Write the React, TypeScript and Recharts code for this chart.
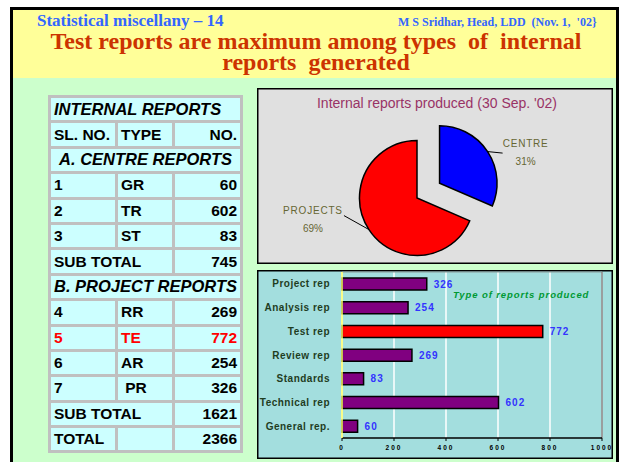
import React from 'react'
import {
  PieChart, Pie, Cell, BarChart, Bar, XAxis, YAxis, CartesianGrid, LabelList, ReferenceLine,
} from 'recharts'

// slide texts
const slideTag = 'Statistical miscellany – 14'
const slideAuthor = "M S Sridhar, Head, LDD  (Nov. 1,  '02}"
const slideTitle = ['Test reports are maximum among types  of  internal', 'reports  generated']

// table
const centreRows: [string, string, number][] = [
  ['1', 'GR', 60],
  ['2', 'TR', 602],
  ['3', 'ST', 83],
]
const projectRows: [string, string, number][] = [
  ['4', 'RR', 269],
  ['5', 'TE', 772],
  ['6', 'AR', 254],
  ['7', ' PR', 326],
]
const highlightType = 'TE'

// pie
const pieTitle = "Internal reports produced (30 Sep. '02)"
const pieNames = ['CENTRE', 'PROJECTS']
const pieValues = [745, 1621]
const pieColors = ['#0000ff', '#ff0000']

// bars
const barCategories = ['Project rep', 'Analysis rep', 'Test rep', 'Review rep', 'Standards', 'Technical rep', 'General rep.']
const barValues = [326, 254, 772, 269, 83, 602, 60]
const barTicks = [0, 200, 400, 600, 800, 1000]
const barTitle = 'Type of reports produced'
const barHighlight = 'Test rep'

const sans = '"Liberation Sans", Arial, sans-serif'
const serif = '"Liberation Serif", "Times New Roman", serif'

const centreSub = centreRows.reduce((s, r) => s + r[2], 0)
const projectSub = projectRows.reduce((s, r) => s + r[2], 0)

const pieData = pieNames.map((name, i) => ({ name, value: pieValues[i] }))
const barData = barCategories.map((name, i) => ({ name, value: barValues[i] }))

// exploded centre slice
const centreShare = pieValues[0] / (pieValues[0] + pieValues[1])
const centreMid = (90 - 180 * centreShare) * Math.PI / 180
const explode = 27
const PCX = 160
const PCY = 110

const td: React.CSSProperties = {
  border: '3px solid #c0c0c0',
  padding: '0 3px',
  height: 22.4,
  fontWeight: 'bold',
  whiteSpace: 'pre',
}
const th: React.CSSProperties = { ...td, fontStyle: 'italic', fontSize: 16.5 }

function PieLabel(which: string) {
  return (p: any) => {
    if (p.name !== which) return null
    const r = Math.PI / 180
    const ex = p.cx + p.outerRadius * Math.cos(-p.midAngle * r)
    const ey = p.cy + p.outerRadius * Math.sin(-p.midAngle * r)
    const right = ex > p.cx
    const lx = right ? ex + 15 : ex - 25
    const ly = right ? ey + 1.5 : ey - 14
    const tx = right ? ex + 38 : ex - 56
    const ty = right ? ey - 8 : ey - 19
    return (
      <g>
        <line x1={ex} y1={ey} x2={lx} y2={ly} stroke="#000" strokeWidth={1} />
        <text x={tx} y={ty} textAnchor="middle" dominantBaseline="central" fill="#666633"
          fontSize={10} letterSpacing={0.8} fontFamily={sans}>{p.name}</text>
        <text x={tx} y={ty + 18} textAnchor="middle" dominantBaseline="central" fill="#666633"
          fontSize={10} fontFamily={sans}>{Math.round(p.percent * 100)}%</text>
      </g>
    )
  }
}

function YTick({ x, y, payload }: any) {
  return (
    <text x={x} y={y} textAnchor="end" dominantBaseline="central" fill="#1f3d1f"
      fontSize={10} fontWeight="bold" letterSpacing={0.5} fontFamily={sans}>{payload.value}</text>
  )
}

export default function App() {
  return (
    <div style={{ position: 'absolute', left: 0, top: 0, width: 620, height: 462, overflow: 'hidden', background: '#fff' }}>
      <div style={{ position: 'absolute', left: 10, top: 7, width: 609, height: 470, border: '3px solid #000', boxSizing: 'border-box', background: '#ccffcc' }} />
      <div style={{ position: 'absolute', left: 13, top: 10, width: 603, height: 68, background: '#ffff99' }} />
      <div style={{ position: 'absolute', left: 37, top: 13, fontFamily: serif, fontWeight: 'bold', fontSize: 17, lineHeight: '16px', color: '#3366ff', whiteSpace: 'nowrap' }}>{slideTag}</div>
      <div style={{ position: 'absolute', left: 398, top: 16, fontFamily: serif, fontWeight: 'bold', fontSize: 12, lineHeight: '12px', color: '#3366ff', whiteSpace: 'pre' }}>{slideAuthor}</div>
      <div style={{ position: 'absolute', left: 13, top: 30.5, width: 606, textAlign: 'center', fontFamily: serif, fontWeight: 'bold', fontSize: 24, lineHeight: '21px', color: '#cc3300', whiteSpace: 'pre' }}>
        {slideTitle.map(t => <div key={t}>{t}</div>)}
      </div>

      <table style={{ position: 'absolute', left: 48, top: 95, width: 193, borderCollapse: 'collapse', background: '#ccffff', fontFamily: sans, fontSize: 15.5, color: '#000' }}>
        <colgroup><col style={{ width: 67 }} /><col style={{ width: 57 }} /><col style={{ width: 69 }} /></colgroup>
        <tbody>
          <tr><td colSpan={3} style={th}>INTERNAL REPORTS</td></tr>
          <tr><td style={td}>SL. NO.</td><td style={td}>TYPE</td><td style={{ ...td, textAlign: 'right' }}>NO.</td></tr>
          <tr><td colSpan={3} style={{ ...th, textAlign: 'center' }}>A. CENTRE REPORTS</td></tr>
          {centreRows.map(r => (
            <tr key={r[0]}><td style={td}>{r[0]}</td><td style={td}>{r[1]}</td><td style={{ ...td, textAlign: 'right' }}>{r[2]}</td></tr>
          ))}
          <tr><td colSpan={2} style={td}>SUB TOTAL</td><td style={{ ...td, textAlign: 'right' }}>{centreSub}</td></tr>
          <tr><td colSpan={3} style={{ ...th, textAlign: 'center' }}>B. PROJECT REPORTS</td></tr>
          {projectRows.map(r => {
            const c = r[1] === highlightType ? '#ff0000' : '#000'
            return (
              <tr key={r[0]}><td style={{ ...td, color: c }}>{r[0]}</td><td style={{ ...td, color: c }}>{r[1]}</td><td style={{ ...td, textAlign: 'right', color: c }}>{r[2]}</td></tr>
            )
          })}
          <tr><td colSpan={2} style={td}>SUB TOTAL</td><td style={{ ...td, textAlign: 'right' }}>{projectSub}</td></tr>
          <tr><td style={td}>TOTAL</td><td style={td}></td><td style={{ ...td, textAlign: 'right' }}>{centreSub + projectSub}</td></tr>
        </tbody>
      </table>

      <div style={{ position: 'absolute', left: 257, top: 88, width: 356, height: 176, background: '#e0e0e0', boxShadow: 'inset 0 0 0 1.5px #000' }}>
        <div style={{ position: 'absolute', left: 0, top: 7, width: 360, textAlign: 'center', fontFamily: sans, fontSize: 14, color: '#993366', lineHeight: '16px' }}>{pieTitle}</div>
        <PieChart width={356} height={176} margin={{ top: 0, right: 0, bottom: 0, left: 0 }} style={{ position: 'absolute', left: 0, top: 0 }}>
          <Pie data={pieData} dataKey="value" nameKey="name" cx={PCX} cy={PCY} outerRadius={57.5}
            startAngle={90} endAngle={-270} isAnimationActive={false} labelLine={false} label={PieLabel('PROJECTS')}>
            {pieData.map((d, i) => (
              <Cell key={d.name} fill={i === 1 ? pieColors[i] : 'none'} stroke={i === 1 ? '#000' : 'none'} strokeWidth={1.5} />
            ))}
          </Pie>
          <Pie data={pieData} dataKey="value" nameKey="name"
            cx={PCX + explode * Math.cos(centreMid)} cy={PCY - explode * Math.sin(centreMid)} outerRadius={57.5}
            startAngle={90} endAngle={-270} isAnimationActive={false} labelLine={false} label={PieLabel('CENTRE')}>
            {pieData.map((d, i) => (
              <Cell key={d.name} fill={i === 0 ? pieColors[i] : 'none'} stroke={i === 0 ? '#000' : 'none'} strokeWidth={1.5} />
            ))}
          </Pie>
        </PieChart>
      </div>

      <div style={{ position: 'absolute', left: 257, top: 270, width: 356, height: 189, background: '#a3dede', boxShadow: 'inset 0 0 0 1.5px #000' }}>
        <BarChart width={356} height={189} data={barData} layout="vertical" barCategoryGap={0}
          margin={{ top: 2, right: 11, left: 0, bottom: 0 }} style={{ position: 'absolute', left: 0, top: 0 }}>
          <CartesianGrid horizontal={false} vertical stroke="#ffffff" strokeWidth={1.5} />
          <CartesianGrid vertical={false} horizontalPoints={[2]} stroke="#8a9a9a" strokeWidth={1} />
          <XAxis type="number" domain={[0, 1000]} ticks={barTicks} height={21} interval={0}
            axisLine={{ stroke: '#000', strokeWidth: 1.5 }} tickLine={{ stroke: '#000' }} tickSize={3} tickMargin={4}
            tick={{ fontSize: 6.5, fontWeight: 'bold', fill: '#000', fontFamily: sans, letterSpacing: 2 }} />
          <YAxis type="category" dataKey="name" width={85} axisLine={{ stroke: '#ffff66', strokeWidth: 1.5 }}
            tickLine={false} tickMargin={6} tick={<YTick />} interval={0} />
          <ReferenceLine x={1000} stroke="#808080" strokeWidth={1.5} />
          <Bar dataKey="value" barSize={12} stroke="#000" strokeWidth={1.5} isAnimationActive={false}>
            {barData.map(d => (
              <Cell key={d.name} fill={d.name === barHighlight ? '#ff0000' : '#800080'} />
            ))}
            <LabelList dataKey="value" position="right" offset={7} fill="#3333ff" fontSize={10}
              fontWeight="bold" letterSpacing={1} fontFamily={sans} />
          </Bar>
        </BarChart>
        <div style={{ position: 'absolute', left: 196, top: 19, width: 134, textAlign: 'center', fontFamily: sans, fontSize: 9.5,
          fontWeight: 'bold', fontStyle: 'italic', color: '#009933', letterSpacing: 0.9, whiteSpace: 'nowrap' }}>{barTitle}</div>
      </div>
    </div>
  )
}
